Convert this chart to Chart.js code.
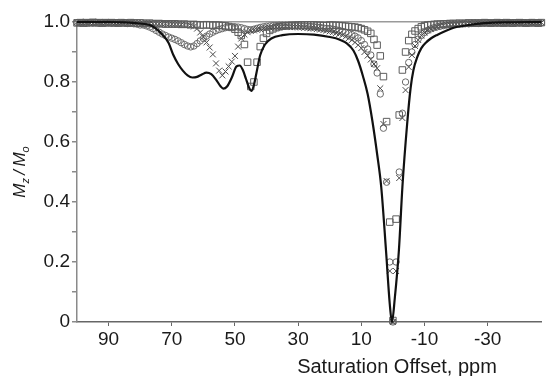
<!DOCTYPE html>
<html>
<head>
<meta charset="utf-8">
<script src="https://cdn.jsdelivr.net/npm/chart.js@4.4.0/dist/chart.umd.min.js"></script>
<style>
  html, body { margin: 0; padding: 0; background: #fff; }
  canvas { display: block; }
</style>
</head>
<body>
<canvas id="chart" width="547" height="376"></canvas>
<script>
// saturation offsets (ppm) at which the three measured z-spectra were sampled
const offsets = [
  100, 99, 98, 97, 96, 95, 94, 93, 92, 91,
  90, 89, 88, 87, 86, 85, 84, 83, 82, 81,
  80, 79, 78, 77, 76, 75, 74, 73, 72, 71,
  70, 69, 68, 67, 66, 65, 64, 63, 62, 61,
  60, 59, 58, 57, 56, 55, 54, 53, 52, 51,
  50, 49, 48, 47, 46, 45, 44, 43, 42, 41,
  40, 39, 38, 37, 36, 35, 34, 33, 32, 31,
  30, 29, 28, 27, 26, 25, 24, 23, 22, 21,
  20, 19, 18, 17, 16, 15, 14, 13, 12, 11,
  10, 9, 8, 7, 6, 5, 4, 3, 2, 1,
  0, -1, -2, -3, -4, -5, -6, -7, -8, -9,
  -10, -11, -12, -13, -14, -15, -16, -17, -18, -19,
  -20, -21, -22, -23, -24, -25, -26, -27, -28, -29,
  -30, -31, -32, -33, -34, -35, -36, -37, -38, -39,
  -40, -41, -42, -43, -44, -45, -46, -47
];

// open circles
const circleVals = [
  0.998, 0.997, 0.999, 0.996, 0.998, 0.997, 0.999, 0.996, 0.998, 0.997,
  0.998, 0.996, 0.997, 0.998, 0.996, 0.997, 0.995, 0.996, 0.994, 0.993,
  0.990, 0.990, 0.987, 0.983, 0.978, 0.972, 0.966, 0.960, 0.955, 0.950,
  0.946, 0.942, 0.937, 0.931, 0.925, 0.920, 0.917, 0.920, 0.928, 0.937,
  0.945, 0.953, 0.960, 0.966, 0.971, 0.975, 0.978, 0.981, 0.983, 0.984,
  0.984, 0.983, 0.981, 0.978, 0.975, 0.974, 0.976, 0.979, 0.982, 0.984,
  0.986, 0.987, 0.988, 0.988, 0.989, 0.989, 0.989, 0.989, 0.988, 0.988,
  0.988, 0.987, 0.987, 0.986, 0.985, 0.984, 0.983, 0.982, 0.980, 0.979,
  0.978, 0.976, 0.974, 0.972, 0.969, 0.966, 0.962, 0.958, 0.953, 0.947,
  0.938, 0.925, 0.910, 0.890, 0.860, 0.830, 0.760, 0.646, 0.466, 0.200,
  0.000, 0.200, 0.500, 0.696, 0.800, 0.865, 0.900, 0.925, 0.943, 0.955,
  0.965, 0.972, 0.977, 0.981, 0.984, 0.986, 0.988, 0.990, 0.991, 0.992,
  0.993, 0.993, 0.994, 0.995, 0.994, 0.995, 0.996, 0.995, 0.996, 0.996,
  0.997, 0.996, 0.997, 0.996, 0.997, 0.998, 0.997, 0.996, 0.997, 0.998,
  0.997, 0.998, 0.997, 0.996, 0.998, 0.997, 0.998, 0.997
];

// crosses
const crossVals = [
  0.999, 0.998, 0.997, 0.999, 0.998, 0.996, 0.998, 0.999, 0.997, 0.998,
  0.997, 0.998, 0.996, 0.997, 0.998, 0.997, 0.996, 0.997, 0.996, 0.997,
  0.996, 0.995, 0.996, 0.995, 0.994, 0.995, 0.994, 0.993, 0.994, 0.993,
  0.993, 0.992, 0.992, 0.991, 0.990, 0.990, 0.988, 0.985, 0.978, 0.965,
  0.950, 0.932, 0.915, 0.892, 0.862, 0.838, 0.822, 0.835, 0.852, 0.868,
  0.887, 0.918, 0.945, 0.958, 0.966, 0.970, 0.972, 0.974, 0.976, 0.978,
  0.980, 0.981, 0.982, 0.983, 0.983, 0.984, 0.984, 0.984, 0.983, 0.983,
  0.982, 0.982, 0.981, 0.980, 0.979, 0.978, 0.977, 0.975, 0.973, 0.971,
  0.969, 0.966, 0.963, 0.960, 0.956, 0.951, 0.946, 0.940, 0.932, 0.923,
  0.913, 0.900, 0.888, 0.875, 0.860, 0.846, 0.779, 0.660, 0.470, 0.170,
  0.000, 0.170, 0.480, 0.680, 0.773, 0.850, 0.890, 0.920, 0.940, 0.955,
  0.965, 0.972, 0.977, 0.981, 0.984, 0.987, 0.989, 0.990, 0.991, 0.992,
  0.992, 0.993, 0.994, 0.993, 0.995, 0.994, 0.995, 0.996, 0.995, 0.996,
  0.996, 0.997, 0.996, 0.997, 0.998, 0.996, 0.997, 0.998, 0.997, 0.996,
  0.998, 0.997, 0.996, 0.998, 0.997, 0.998, 0.997, 0.998
];

// open squares
const squareVals = [
  0.997, 0.998, 0.996, 0.998, 0.997, 0.999, 0.997, 0.998, 0.996, 0.998,
  0.997, 0.998, 0.997, 0.996, 0.998, 0.997, 0.996, 0.998, 0.997, 0.996,
  0.997, 0.996, 0.995, 0.996, 0.995, 0.994, 0.995, 0.994, 0.993, 0.994,
  0.993, 0.994, 0.993, 0.992, 0.993, 0.992, 0.991, 0.992, 0.991, 0.990,
  0.990, 0.991, 0.990, 0.989, 0.990, 0.989, 0.988, 0.987, 0.985, 0.982,
  0.976, 0.966, 0.955, 0.925, 0.866, 0.785, 0.800, 0.866, 0.918, 0.946,
  0.962, 0.972, 0.977, 0.981, 0.984, 0.986, 0.987, 0.988, 0.989, 0.989,
  0.990, 0.990, 0.990, 0.990, 0.990, 0.990, 0.989, 0.989, 0.988, 0.988,
  0.990, 0.989, 0.989, 0.988, 0.987, 0.986, 0.985, 0.984, 0.983, 0.981,
  0.978, 0.974, 0.969, 0.962, 0.942, 0.923, 0.887, 0.818, 0.668, 0.333,
  0.005, 0.343, 0.690, 0.840, 0.900, 0.938, 0.959, 0.970, 0.978, 0.984,
  0.988, 0.990, 0.991, 0.992, 0.993, 0.993, 0.994, 0.994, 0.995, 0.995,
  0.995, 0.996, 0.995, 0.996, 0.997, 0.996, 0.997, 0.996, 0.997, 0.998,
  0.997, 0.996, 0.997, 0.998, 0.997, 0.996, 0.998, 0.997, 0.996, 0.997,
  0.998, 0.997, 0.996, 0.997, 0.998, 0.997, 0.996, 0.998
];

// solid simulated curve
const curveX = [
  100, 90, 85, 80, 77, 75, 73, 71, 69.5, 68, 66.5, 65, 63.5, 62, 60.5, 59,
  57.5, 56, 54.5, 53.7, 52.5, 51, 49.5, 48.5, 47.5, 46.5, 45.5, 44.8, 44,
  43.2, 42, 40.5, 38.5, 35, 30, 25, 20, 17, 14.5, 12.5, 11, 9.5, 8, 6.5,
  5, 3.7, 2.2, 1, 0.3, -0.6, -1.9, -3, -4.5, -5.6, -6.5, -7.7, -9, -10.5,
  -12, -14, -17, -19, -24, -29, -35, -47
];
const curveY = [
  1.0, 1.0, 0.999, 0.995, 0.99, 0.978, 0.958, 0.93, 0.89, 0.86, 0.838, 0.822,
  0.815, 0.817, 0.825, 0.831, 0.826, 0.808, 0.785, 0.778, 0.785, 0.815,
  0.852, 0.855, 0.84, 0.81, 0.78, 0.77, 0.79, 0.83, 0.89, 0.925, 0.945,
  0.956, 0.96, 0.958, 0.95, 0.942, 0.928, 0.905, 0.87, 0.82, 0.76, 0.67,
  0.56, 0.45, 0.24, 0.06, 0.0, 0.08, 0.24, 0.45, 0.66, 0.78, 0.84, 0.883,
  0.913, 0.932, 0.945, 0.957, 0.972, 0.98, 0.99, 0.996, 0.999, 1.0
];

const xTicks = [90, 70, 50, 30, 10, -10, -30];
const xTitle = 'Saturation Offset, ppm';

const toPoints = (xs, ys) => xs.map((x, i) => ({ x: x, y: ys[i] }));

const markerStyle = (label, data, style, color, radius, order) => ({
    label: label,
    data: data,
    showLine: false,
    pointStyle: style,
    pointRadius: radius,
    pointBorderWidth: 1,
    pointBorderColor: color,
    pointBackgroundColor: 'rgba(0,0,0,0)',
    clip: false,
    order: order
});

const font = '"Liberation Sans", Arial, sans-serif';

// axis titles (x title sits off-centre and y title has subscripts)
const axisTitles = {
    id: 'axisTitles',
    afterDraw(chart) {
        const ctx = chart.ctx;
        ctx.save();
        ctx.fillStyle = '#1a1a1a';
        ctx.textBaseline = 'alphabetic';
        ctx.font = '20px ' + font;
        ctx.textAlign = 'center';
        ctx.fillText(xTitle, 397, 373);

        const parts = [
            { t: 'M', size: 17, dy: 0 },
            { t: 'z', size: 11, dy: 4 },
            { t: '\u2009/\u2009', size: 17, dy: 0 },
            { t: 'M', size: 17, dy: 0 },
            { t: 'o', size: 11, dy: 4 }
        ];
        let total = 0;
        parts.forEach(p => {
            ctx.font = 'italic ' + p.size + 'px ' + font;
            p.w = ctx.measureText(p.t).width;
            total += p.w;
        });
        ctx.translate(25, (chart.chartArea.top + chart.chartArea.bottom) / 2);
        ctx.rotate(-Math.PI / 2);
        ctx.textAlign = 'left';
        let pos = -total / 2;
        parts.forEach(p => {
            ctx.font = 'italic ' + p.size + 'px ' + font;
            ctx.fillText(p.t, pos, p.dy);
            pos += p.w;
        });
        ctx.restore();
    }
};

new Chart(document.getElementById('chart'), {
    type: 'scatter',
    data: {
        datasets: [
            {
                label: 'simulation',
                data: toPoints(curveX, curveY),
                showLine: true,
                borderColor: '#111',
                borderWidth: 2.2,
                pointRadius: 0,
                cubicInterpolationMode: 'monotone',
                clip: false,
                order: 0
            },
            markerStyle('squares', toPoints(offsets, squareVals), 'rect', '#5e5e5e', 4.6, 1),
            markerStyle('crosses', toPoints(offsets, crossVals), 'crossRot', '#4a4a4a', 4.2, 2),
            markerStyle('circles', toPoints(offsets, circleVals), 'circle', '#6a6a6a', 3.2, 3)
        ]
    },
    options: {
        responsive: false,
        animation: false,
        devicePixelRatio: 1,
        layout: { padding: { top: 22, right: 0, bottom: 0, left: 0 } },
        plugins: {
            legend: { display: false },
            tooltip: { enabled: false }
        },
        scales: {
            x: {
                type: 'linear',
                reverse: true,
                min: -47,
                max: 100,
                afterBuildTicks: scale => {
                    scale.ticks = xTicks.map(v => ({ value: v }));
                },
                afterFit: scale => { scale.height = 54; },
                grid: {
                    drawOnChartArea: false,
                    tickLength: 4,
                    tickColor: '#666'
                },
                border: { color: '#666', width: 1.5 },
                ticks: {
                    color: '#1a1a1a',
                    font: { family: font, size: 19 },
                    padding: 2,
                    maxRotation: 0,
                    autoSkip: false,
                    callback: v => String(v)
                }
            },
            y: {
                min: 0,
                max: 1,
                afterFit: scale => { scale.width = 77; },
                grid: {
                    color: ctx => Math.abs(ctx.tick.value - 1) < 1e-6 ? '#9a9a9a' : 'rgba(0,0,0,0)',
                    lineWidth: 1.5,
                    tickLength: 5,
                    tickColor: '#8a8a8a'
                },
                border: { color: '#8a8a8a', width: 1.5 },
                ticks: {
                    stepSize: 0.1,
                    autoSkip: false,
                    color: '#1a1a1a',
                    font: { family: font, size: 19 },
                    padding: 2,
                    callback: v => {
                        const r = Math.round(v * 10);
                        if (r % 2 !== 0) return '';
                        return r === 0 ? '0' : (r / 10).toFixed(1);
                    }
                }
            }
        }
    },
    plugins: [axisTitles]
});
</script>
</body>
</html>
